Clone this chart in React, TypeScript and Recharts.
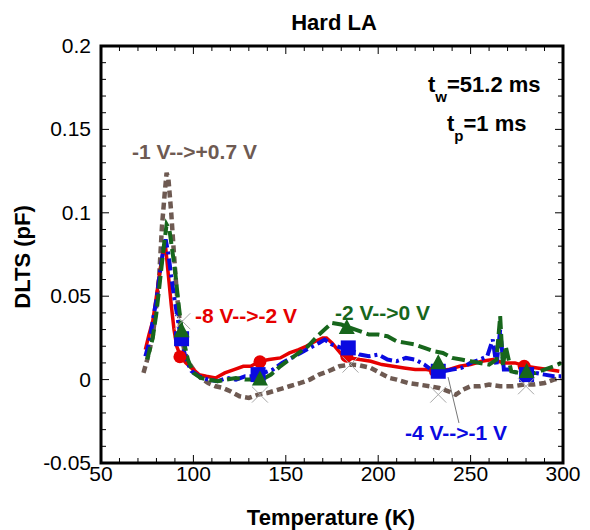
import React from "react";
import {
  ComposedChart,
  Line,
  Scatter,
  XAxis,
  YAxis,
  ReferenceArea,
  ReferenceLine
} from "recharts";

// -1 V-->+0.7 V (brown dashed)
const brownT = [73, 75, 78, 80, 81.5, 83, 84.5, 85.5, 86.5, 88, 89.5, 91, 93, 95, 97, 100, 104, 108, 112, 116, 120, 125, 130, 135, 140, 146, 152, 158, 163, 168, 173, 179, 185, 190, 196, 201, 206, 210, 216, 222, 228, 233, 238, 242, 246, 250, 255, 260, 266, 273, 279, 284, 290, 295, 299];
const brownV = [0.004, 0.012, 0.026, 0.045, 0.062, 0.092, 0.112, 0.124, 0.12, 0.1, 0.075, 0.052, 0.03, 0.018, 0.011, 0.006, 0.001, -0.002, -0.004, -0.005, -0.007, -0.01, -0.011, -0.009, -0.008, -0.006, -0.004, -0.002, 0.0, 0.003, 0.005, 0.008, 0.009, 0.0085, 0.007, 0.004, 0.001, 0.0, -0.002, -0.003, -0.004, -0.005, -0.007, -0.009, -0.006, -0.004, -0.004, -0.003, -0.004, -0.004, -0.003, -0.003, -0.002, 0.0, 0.001];

// -8 V-->-2 V (red solid)
const redT = [74, 76, 78, 80, 82, 83.5, 85, 86.5, 88, 89.5, 91, 93, 96, 99, 103, 107, 112, 117, 122, 127, 131, 136, 141, 147, 152, 157, 161, 166, 170, 172, 175, 178, 181, 185, 190, 196, 202, 208, 214, 220, 226, 232, 238, 244, 250, 256, 262, 268, 274, 280, 286, 292, 298];
const redV = [0.018, 0.027, 0.035, 0.05, 0.066, 0.076, 0.079, 0.062, 0.045, 0.03, 0.02, 0.014, 0.01, 0.007, 0.003, 0.002, 0.001, 0.004, 0.006, 0.008, 0.008, 0.011, 0.012, 0.013, 0.016, 0.018, 0.02, 0.023, 0.025, 0.025, 0.022, 0.018, 0.014, 0.013, 0.012, 0.011, 0.009, 0.008, 0.007, 0.006, 0.006, 0.005, 0.006, 0.008, 0.009, 0.011, 0.012, 0.01, 0.01, 0.008, 0.007, 0.006, 0.005];

// -4 V-->-1 V (blue dash-dot)
const blueT = [74, 76, 78, 80, 82, 84, 85, 86.5, 88, 89.5, 91, 93, 96, 99, 103, 108, 113, 118, 123, 128, 133, 138, 143, 148, 153, 158, 163, 168, 171, 175, 180, 185, 190, 195, 200, 205, 210, 215, 220, 225, 230, 235, 240, 245, 250, 255, 259, 262, 264, 266, 268, 271, 275, 280, 285, 290, 295, 299];
const blueV = [0.014, 0.022, 0.035, 0.048, 0.065, 0.08, 0.084, 0.075, 0.062, 0.05, 0.04, 0.026, 0.012, 0.005, 0.002, 0.0, -0.001, 0.001, 0.0, 0.002, 0.002, 0.004, 0.006, 0.01, 0.013, 0.016, 0.019, 0.022, 0.024, 0.021, 0.019, 0.018, 0.015, 0.014, 0.015, 0.012, 0.011, 0.013, 0.012, 0.009, 0.005, 0.005, 0.006, 0.007, 0.01, 0.012, 0.014, 0.024, 0.008, 0.03, 0.006, 0.006, 0.004, 0.003, 0.004, 0.003, 0.002, 0.002];

// -2 V-->0 V (green dashed)
const greenT = [75, 78, 80, 82, 84, 85.5, 87, 88.5, 90, 92, 94, 97, 100, 104, 108, 113, 118, 123, 128, 133, 137, 142, 147, 152, 157, 162, 167, 171, 175, 180, 185, 190, 195, 200, 205, 210, 215, 220, 225, 230, 235, 240, 245, 250, 255, 260, 264, 266, 267.5, 269, 272, 276, 280, 285, 290, 295, 299];
const greenV = [0.012, 0.025, 0.04, 0.06, 0.08, 0.093, 0.09, 0.078, 0.066, 0.045, 0.027, 0.012, 0.004, 0.001, 0.0, -0.001, 0.0, 0.001, 0.0, 0.0, 0.0, 0.003, 0.008, 0.012, 0.016, 0.02, 0.026, 0.03, 0.034, 0.033, 0.031, 0.029, 0.027, 0.027, 0.026, 0.023, 0.022, 0.021, 0.019, 0.017, 0.016, 0.013, 0.012, 0.011, 0.01, 0.009, 0.012, 0.038, 0.008, 0.02, 0.005, 0.004, 0.004, 0.004, 0.006, 0.008, 0.01];

// symbols
const redMarkT = [92.7, 136, 183, 231, 279];
const redMarkV = [0.0137, 0.0107, 0.014, 0.005, 0.008];
const blueMarkT = [93.6, 135, 183.8, 232.5, 280.3];
const blueMarkV = [0.0245, 0.003, 0.019, 0.005, 0.003];
const greenMarkT = [93.6, 136, 183, 232.5, 280.3];
const greenMarkV = [0.029, 0.0, 0.031, 0.0098, 0.0045];
const brownMarkT = [94, 136, 185, 232.5, 280];
const brownMarkV = [0.035, -0.009, 0.009, -0.009, -0.004];

const xTicks = [50, 60, 70, 80, 90, 100, 110, 120, 130, 140, 150, 160, 170, 180, 190, 200, 210, 220, 230, 240, 250, 260, 270, 280, 290, 300];
const yTicks = [-0.05, -0.04, -0.03, -0.02, -0.01, 0, 0.01, 0.02, 0.03, 0.04, 0.05, 0.06, 0.07, 0.08, 0.09, 0.1, 0.11, 0.12, 0.13, 0.14, 0.15, 0.16, 0.17, 0.18, 0.19, 0.2];

const zip = (ts: number[], vs: number[]) => ts.map((t, i) => ({ t, v: vs[i] }));

const FONT = "'Liberation Sans', Arial, sans-serif";
const BROWN = "#6e5a52";
const RED = "#e60000";
const BLUE = "#0a0ae0";
const GREEN = "#17661c";

const W = 590;
const H = 530;
const X_AXIS_H = 40;
const Y_AXIS_W = 60;
const M = { top: 46, right: 27, bottom: 67 - X_AXIS_H, left: 101 - Y_AXIS_W };
const PLOT_TOP = 46;
const PLOT_BOTTOM = H - 67;
const PLOT_LEFT = 101;
const PLOT_RIGHT = W - M.right;

const XTick = (props: any) => {
  const { x, payload } = props;
  const major = payload.value % 50 === 0;
  const len = major ? 8 : 5;
  return (
    <g>
      <line x1={x} x2={x} y1={PLOT_BOTTOM} y2={PLOT_BOTTOM - len} stroke="#000" strokeWidth={1} />
      <line x1={x} x2={x} y1={PLOT_TOP} y2={PLOT_TOP + len} stroke="#000" strokeWidth={1} />
      {major && (
        <text x={x} y={PLOT_BOTTOM + 18} textAnchor="middle" fontSize={21} fontFamily={FONT} fill="#000">
          {payload.value}
        </text>
      )}
    </g>
  );
};

const YTick = (props: any) => {
  const { y, payload } = props;
  const major = Math.round(payload.value * 100) % 5 === 0;
  const len = major ? 8 : 5;
  return (
    <g>
      <line x1={PLOT_LEFT} x2={PLOT_LEFT + len} y1={y} y2={y} stroke="#000" strokeWidth={1} />
      <line x1={PLOT_RIGHT} x2={PLOT_RIGHT - len} y1={y} y2={y} stroke="#000" strokeWidth={1} />
      {major && (
        <text x={PLOT_LEFT - 10} y={y + 7} textAnchor="end" fontSize={21} fontFamily={FONT} fill="#000">
          {String(Math.round(payload.value * 100) / 100)}
        </text>
      )}
    </g>
  );
};

const Circle = (p: any) => <circle cx={p.cx} cy={p.cy} r={6.5} fill={RED} />;
const Square = (p: any) => <rect x={p.cx - 7.5} y={p.cy - 7.5} width={15} height={15} fill={BLUE} />;
const Tri = (p: any) => (
  <polygon points={`${p.cx},${p.cy - 9} ${p.cx + 8},${p.cy + 6} ${p.cx - 8},${p.cy + 6}`} fill={GREEN} />
);
const Cross = (p: any) => (
  <g stroke="#a8a8a8" strokeWidth={1}>
    <line x1={p.cx - 8} y1={p.cy - 8} x2={p.cx + 8} y2={p.cy + 8} />
    <line x1={p.cx - 8} y1={p.cy + 8} x2={p.cx + 8} y2={p.cy - 8} />
  </g>
);

const bold = { fontFamily: FONT, fontWeight: 700 } as const;

export default function App() {
  return (
    <div style={{ position: "absolute", left: 0, top: 0, width: W, height: H, background: "#fff" }}>
      <ComposedChart width={W} height={H} margin={M}>
        <XAxis
          type="number"
          dataKey="t"
          domain={[50, 300]}
          ticks={xTicks}
          interval={0}
          height={X_AXIS_H}
          tickLine={false}
          axisLine={false}
          tick={<XTick />}
          allowDataOverflow
        />
        <YAxis
          type="number"
          dataKey="v"
          domain={[-0.05, 0.2]}
          ticks={yTicks}
          interval={0}
          width={Y_AXIS_W}
          tickLine={false}
          axisLine={false}
          tick={<YTick />}
          allowDataOverflow
        />
        <ReferenceArea x1={50} x2={300} y1={-0.05} y2={0.2} fill="none" stroke="#000" strokeWidth={3} fillOpacity={0} />
        <ReferenceLine segment={[{ x: 237.8, y: 0.0015 }, { x: 243.7, y: -0.026 }]} stroke="#777" strokeWidth={1} />
        <Line data={zip(brownT, brownV)} dataKey="v" stroke={BROWN} strokeWidth={4.5} strokeDasharray="7 4" dot={false} isAnimationActive={false} />
        <Line data={zip(redT, redV)} dataKey="v" stroke={RED} strokeWidth={3.5} dot={false} isAnimationActive={false} />
        <Line data={zip(blueT, blueV)} dataKey="v" stroke={BLUE} strokeWidth={4} strokeDasharray="12 4 3 4" dot={false} isAnimationActive={false} />
        <Line data={zip(greenT, greenV)} dataKey="v" stroke={GREEN} strokeWidth={4} strokeDasharray="13 5" dot={false} isAnimationActive={false} />
        <Scatter data={zip(redMarkT, redMarkV)} shape={Circle} isAnimationActive={false} />
        <Scatter data={zip(blueMarkT, blueMarkV)} shape={Square} isAnimationActive={false} />
        <Scatter data={zip(greenMarkT, greenMarkV)} shape={Tri} isAnimationActive={false} />
        <Scatter data={zip(brownMarkT, brownMarkV)} shape={Cross} isAnimationActive={false} />
      </ComposedChart>
      <svg width={W} height={H} style={{ position: "absolute", left: 0, top: 0, pointerEvents: "none" }}>
        <text x={334} y={30} textAnchor="middle" fontSize={22} {...bold}>Hard LA</text>
        <text x={331} y={525} textAnchor="middle" fontSize={22} {...bold}>Temperature (K)</text>
        <text x={30} y={257} textAnchor="middle" fontSize={22} transform="rotate(-90 30 257)" {...bold}>DLTS (pF)</text>
        <text x={132} y={159} fontSize={21} fill={BROWN} {...bold}>-1 V--&gt;+0.7 V</text>
        <text x={195} y={323} fontSize={21} fill={RED} {...bold}>-8 V--&gt;-2 V</text>
        <text x={335} y={320} fontSize={21} fill={GREEN} {...bold}>-2 V--&gt;0 V</text>
        <text x={405} y={440} fontSize={21} fill={BLUE} {...bold}>-4 V--&gt;-1 V</text>
        <text x={428} y={92} fontSize={22} {...bold}>
          t<tspan dy={10} fontSize={15}>w</tspan>
          <tspan dy={-10}>=51.2 ms</tspan>
        </text>
        <text x={447} y={131} fontSize={22} {...bold}>
          t<tspan dy={10} fontSize={15}>p</tspan>
          <tspan dy={-10}>=1 ms</tspan>
        </text>
      </svg>
    </div>
  );
}
